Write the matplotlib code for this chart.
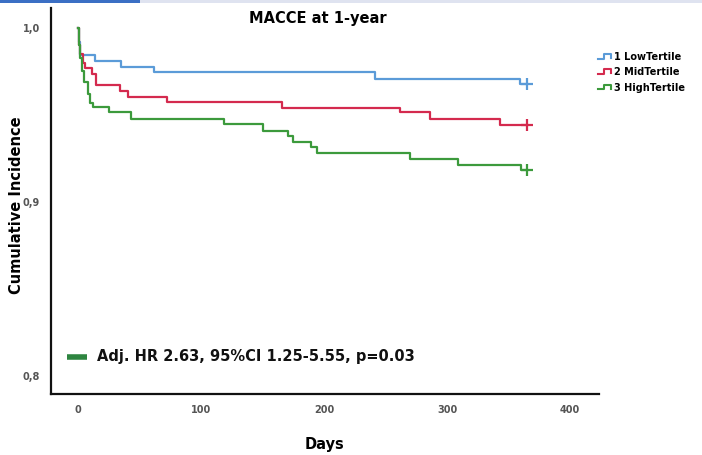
import matplotlib
matplotlib.use("Agg")
import matplotlib.pyplot as plt
from matplotlib.lines import Line2D
from matplotlib.legend_handler import HandlerBase
from matplotlib.patches import Rectangle

# ---- data ----
low_days = [0, 1, 2, 14, 35, 62, 241, 359, 365]
low_vals = [1.0, 0.992, 0.9845, 0.981, 0.9775, 0.9745, 0.971, 0.968, 0.968]

mid_days = [0, 1, 2, 4, 6, 11, 15, 34, 41, 72, 166, 262, 286, 343, 365]
mid_vals = [1.0, 0.990, 0.985, 0.980, 0.977, 0.9735, 0.967, 0.964, 0.9606,
            0.9577, 0.9541, 0.9516, 0.9478, 0.9445, 0.9445]

high_days = [0, 1, 2, 3, 5, 8, 10, 12, 25, 43, 119, 150, 171, 175, 189, 194,
             270, 309, 360, 365]
high_vals = [1.0, 0.990, 0.983, 0.9755, 0.969, 0.962, 0.957, 0.9545, 0.9515,
             0.948, 0.9446, 0.941, 0.938, 0.9345, 0.9316, 0.928, 0.925,
             0.9215, 0.9183, 0.9183]

series_labels = ["1 LowTertile", "2 MidTertile", "3 HighTertile"]
colors = ["#5b9bd8", "#d42a4e", "#3c9a3c"]

x_ticks = [0, 100, 200, 300, 400]
y_ticks = [0.8, 0.9, 1.0]
y_tick_labels = ["0,8", "0,9", "1,0"]

title = "MACCE at 1-year"
annotation = "Adj. HR 2.63, 95%CI 1.25-5.55, p=0.03"

# ---- figure ----
fig = plt.figure(figsize=(7.02, 4.55), dpi=100)
ax = fig.add_axes([0.0726, 0.134, 0.78, 0.848])

# header strip artifacts at the very top
fig.patches.append(Rectangle((0, 0.993), 0.2, 0.007, transform=fig.transFigure,
                             facecolor="#3b6fc4", edgecolor="none"))
fig.patches.append(Rectangle((0.2, 0.993), 0.8, 0.007, transform=fig.transFigure,
                             facecolor="#dfe3f0", edgecolor="none"))

for d, v, c, lab in zip([low_days, mid_days, high_days],
                        [low_vals, mid_vals, high_vals], colors, series_labels):
    ax.step(d, v, where="post", color=c, lw=1.6, label=lab)
    ax.plot([d[-1]], [v[-1]], marker="+", color=c, ms=8, mew=1.6)

ax.set_xlim(-22, 423)
ax.set_ylim(0.7897, 1.0114)
ax.set_xticks(x_ticks)
ax.set_xticklabels([str(t) for t in x_ticks])
ax.set_yticks(y_ticks)
ax.set_yticklabels(y_tick_labels)
ax.tick_params(length=0, labelsize=7, labelcolor="#555555", pad=8)
for lbl in ax.get_xticklabels() + ax.get_yticklabels():
    lbl.set_fontweight("bold")

for s in ["top", "right"]:
    ax.spines[s].set_visible(False)
for s in ["left", "bottom"]:
    ax.spines[s].set_linewidth(1.6)
    ax.spines[s].set_color("#111111")

ax.set_ylabel("Cumulative Incidence", fontsize=10.5, fontweight="bold")
ax.yaxis.set_label_coords(-0.049, 0.49)
ax.set_xlabel("Days", fontsize=10.5, fontweight="bold")
ax.xaxis.set_label_coords(0.5, -0.132)
ax.xaxis.label.set_verticalalignment("center")

fig.text(0.453, 0.96, title, ha="center", va="center", fontsize=10.5,
         fontweight="bold")


class StepHandler(HandlerBase):
    def create_artists(self, legend, orig_handle, xdescent, ydescent,
                       width, height, fontsize, trans):
        w, h = width, height
        xs = [-xdescent, -xdescent + 0.45 * w, -xdescent + 0.45 * w,
              -xdescent + 0.9 * w, -xdescent + 0.9 * w]
        ys = [-ydescent + 0.2 * h, -ydescent + 0.2 * h, -ydescent + 0.9 * h,
              -ydescent + 0.9 * h, -ydescent + 0.3 * h]
        ln = Line2D(xs, ys, color=orig_handle.get_color(), lw=1.5,
                    transform=trans)
        return [ln]


handles = [Line2D([], [], color=c) for c in colors]
leg = fig.legend(handles, series_labels, loc="upper left",
                 bbox_to_anchor=(0.839, 0.905), frameon=False,
                 handler_map={Line2D: StepHandler()}, handlelength=1.5,
                 handletextpad=0.15, labelspacing=0.55,
                 prop={"size": 7, "weight": "bold"})

# annotation with green bar
ax.plot([0.029, 0.066], [0.096, 0.096], transform=ax.transAxes,
        color="#2e8540", lw=4, solid_capstyle="butt")
ax.text(0.084, 0.096, annotation, transform=ax.transAxes, ha="left",
        va="center", fontsize=10.5, fontweight="bold", color="#111111")

fig.savefig("out.png", dpi=100)
